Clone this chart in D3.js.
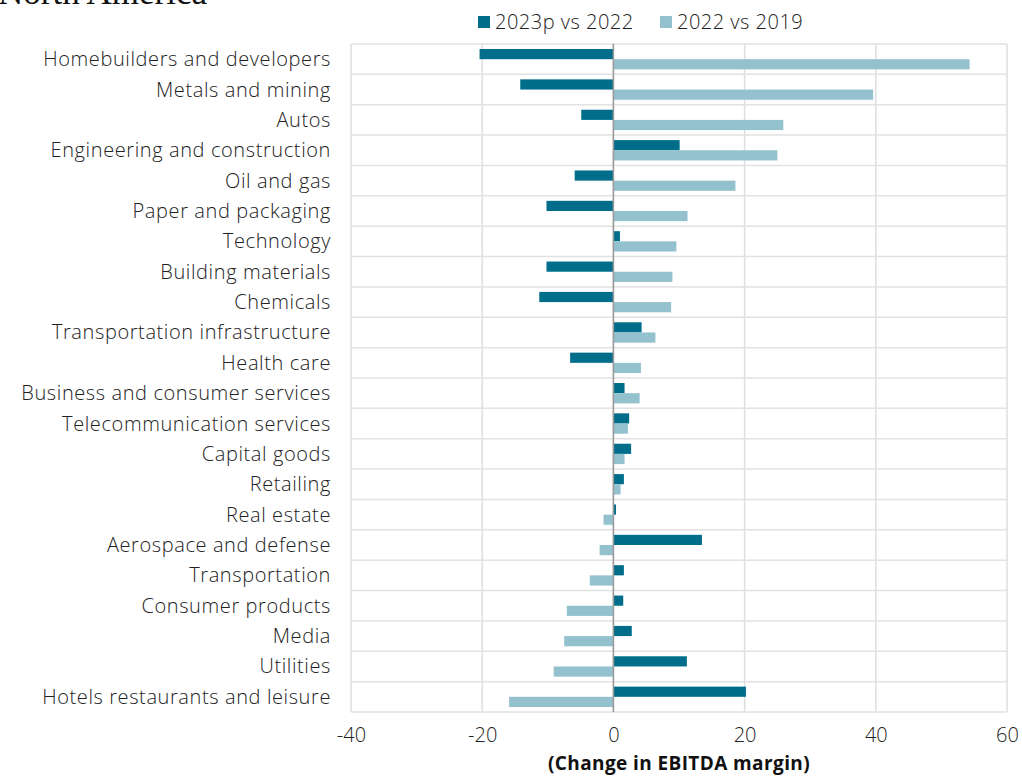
<!DOCTYPE html>
<html>
<head>
<meta charset="utf-8">
<script src="https://cdn.jsdelivr.net/npm/d3@7"></script>
<style>
  body { margin: 0; background: #fff; }
  text { font-family: "Open Sans", Roboto, sans-serif; }
</style>
</head>
<body>
<div id="chart"></div>
<script>
// Industries, top to bottom
const sectors = [
  "Homebuilders and developers", "Metals and mining", "Autos",
  "Engineering and construction", "Oil and gas", "Paper and packaging",
  "Technology", "Building materials", "Chemicals",
  "Transportation infrastructure", "Health care",
  "Business and consumer services", "Telecommunication services",
  "Capital goods", "Retailing", "Real estate", "Aerospace and defense",
  "Transportation", "Consumer products", "Media", "Utilities",
  "Hotels restaurants and leisure"
];
// 2023p vs 2022
const chg2023 = [-20.4, -14.2, -4.9, 10.1, -5.9, -10.2, 1.0, -10.2, -11.3,
  4.3, -6.6, 1.7, 2.4, 2.7, 1.6, 0.4, 13.5, 1.6, 1.5, 2.8, 11.2, 20.2];
// 2022 vs 2019
const chg2022 = [54.3, 39.6, 25.9, 25.0, 18.6, 11.3, 9.6, 9.0, 8.8,
  6.4, 4.2, 4.0, 2.2, 1.7, 1.1, -1.5, -2.1, -3.6, -7.1, -7.5, -9.1, -15.9];
const xTicks = [-40, -20, 0, 20, 40, 60];

const seriesNames = ["2023p vs 2022", "2022 vs 2019"];
const colors = ["#006e8a", "#94c1ce"];

const W = 1022, H = 776;
const margin = { top: 44, right: 15, bottom: 64, left: 351 };
const width = W - margin.left - margin.right,
      height = H - margin.top - margin.bottom;

const svg = d3.select("#chart").append("svg")
    .attr("width", W)
    .attr("height", H);

const g = svg.append("g")
    .attr("transform", "translate(" + margin.left + "," + margin.top + ")");

let x = d3.scaleLinear()
    .domain([-40, 60])
    .range([0, width]);

let y = d3.scaleBand()
    .domain(sectors)
    .range([0, height]);

let inner = d3.scaleBand()
    .domain([0, 1])
    .range([5, y.bandwidth() - 5]);

// Vertical grid
g.selectAll(".vgrid")
    .data(xTicks)
    .join("line")
    .attr("class", "vgrid")
    .attr("x1", d => x(d)).attr("x2", d => x(d))
    .attr("y1", 0).attr("y2", height)
    .style("stroke", "#dedede")
    .style("stroke-width", "1.5px");

// Horizontal row separators
g.selectAll(".hgrid")
    .data(d3.range(sectors.length + 1))
    .join("line")
    .attr("class", "hgrid")
    .attr("x1", 0).attr("x2", width)
    .attr("y1", i => i * y.step()).attr("y2", i => i * y.step())
    .style("stroke", "#e2e2e2")
    .style("stroke-width", "1.5px");

// Bars
const rows = sectors.map((s, i) => ({ name: s, vals: [chg2023[i], chg2022[i]] }));
const row = g.selectAll(".row")
    .data(rows)
    .join("g")
    .attr("class", "row")
    .attr("transform", d => "translate(0," + y(d.name) + ")");

row.selectAll("rect")
    .data(d => d.vals.map((v, k) => ({ v: v, k: k })))
    .join("rect")
    .attr("x", d => x(Math.min(0, d.v)))
    .attr("width", d => Math.abs(x(d.v) - x(0)))
    .attr("y", d => inner(d.k))
    .attr("height", inner.bandwidth())
    .attr("fill", d => colors[d.k]);

// Zero line
g.append("line")
    .attr("x1", x(0)).attr("x2", x(0))
    .attr("y1", 0).attr("y2", height)
    .style("stroke", "#9a9a9a")
    .style("stroke-width", "1.5px");

// Category labels
g.selectAll(".cat")
    .data(sectors)
    .join("text")
    .attr("class", "cat")
    .attr("x", -20)
    .attr("y", d => y(d) + y.bandwidth() / 2)
    .attr("dy", "0.35em")
    .attr("text-anchor", "end")
    .style("font-size", "20px")
    .style("font-weight", 300)
    .style("letter-spacing", "0.6px")
    .style("fill", "#222")
    .text(d => d);

// x axis labels (plain hyphen for negatives, as in the source)
const xAxis = d3.axisBottom(x)
    .tickValues(xTicks)
    .tickFormat(d => String(d))
    .tickSize(0)
    .tickPadding(16);

const xAxisEl = g.append("g")
    .attr("transform", "translate(0," + height + ")")
    .call(xAxis);
xAxisEl.select(".domain").remove();
xAxisEl.selectAll("text")
    .style("font-size", "20px")
    .style("font-weight", 300)
    .style("fill", "#222")
    .style("font-family", "'Open Sans', sans-serif");

g.append("text")
    .attr("x", width / 2)
    .attr("y", height + 58)
    .attr("text-anchor", "middle")
    .style("font-size", "19px")
    .style("font-weight", 700)
    .style("letter-spacing", "0.4px")
    .style("fill", "#111")
    .text("(Change in EBITDA margin)");

// Title (cut off at the top)
svg.append("text")
    .attr("x", -2)
    .attr("y", 4)
    .style("font-family", "'Liberation Serif', 'DejaVu Serif', serif")
    .style("font-size", "35px")
    .style("fill", "#111")
    .text("North America");

// Legend
const legendX = [478, 660];
const legend = svg.selectAll(".leg")
    .data(seriesNames)
    .join("g")
    .attr("class", "leg")
    .attr("transform", (d, i) => "translate(" + legendX[i] + ",0)");
legend.append("rect")
    .attr("x", 0).attr("y", 16)
    .attr("width", 12).attr("height", 12)
    .attr("fill", (d, i) => colors[i]);
legend.append("text")
    .attr("x", 17).attr("y", 22)
    .attr("dy", "0.35em")
    .style("font-size", "20px")
    .style("font-weight", 300)
    .style("letter-spacing", "0.5px")
    .style("fill", "#222")
    .text(d => d);
</script>
</body>
</html>
